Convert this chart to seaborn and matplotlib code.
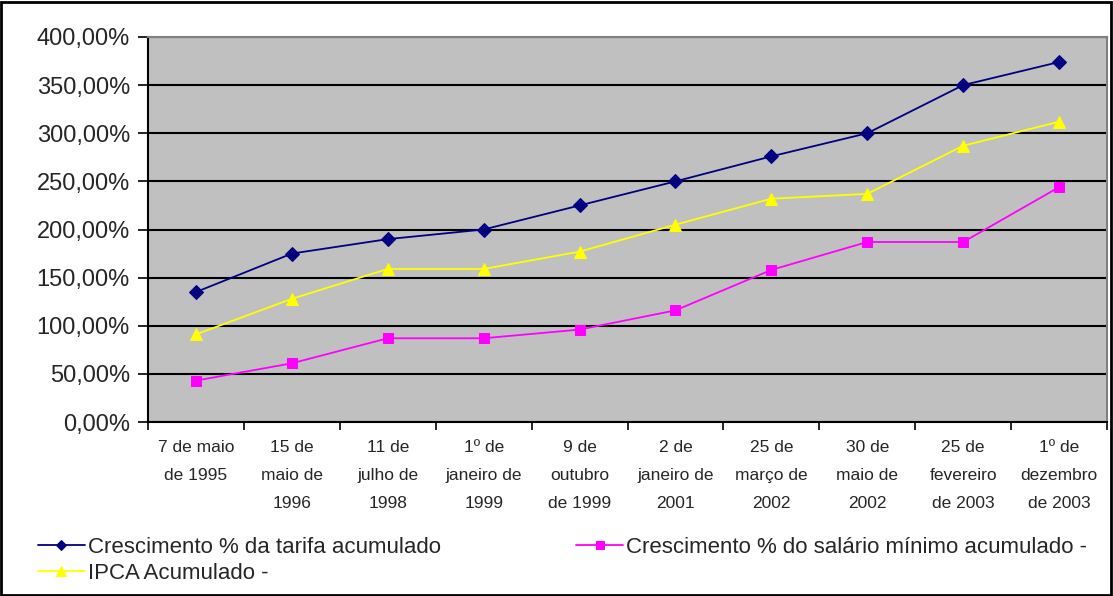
import numpy as np
import pandas as pd
import matplotlib
matplotlib.use("Agg")
import matplotlib.pyplot as plt
import seaborn as sns
from matplotlib.ticker import FuncFormatter

categories = ["7 de maio\nde 1995", "15 de\nmaio de\n1996", "11 de\njulho de\n1998",
              "1º de\njaneiro de\n1999", "9 de\noutubro\nde 1999", "2 de\njaneiro de\n2001",
              "25 de\nmarço de\n2002", "30 de\nmaio de\n2002", "25 de\nfevereiro\nde 2003",
              "1º de\ndezembro\nde 2003"]
tarifa = [135, 175, 190, 200, 225, 250, 276, 300, 350, 374]
salario = [43, 61, 87, 87, 96, 116, 158, 187, 187, 244]
ipca = [91, 128, 159, 159, 177, 205, 232, 237, 287, 312]
series_names = ["Crescimento % da tarifa acumulado",
                "Crescimento % do salário mínimo acumulado -",
                "IPCA Acumulado -"]
yticks = [0, 50, 100, 150, 200, 250, 300, 350, 400]

sns.set_theme(style="white")
plt.rcParams['font.family'] = ['Liberation Sans', 'DejaVu Sans']

fig = plt.figure(figsize=(11.13, 5.96), dpi=100)
ax = fig.add_axes([148/1113, 1 - 422/596, (1107-148)/1113, (422-37)/596])
ax.set_facecolor("#C0C0C0")

x = np.arange(len(categories))
styles = [
    (tarifa, "#000080", "D", 7),
    (salario, "#FF00FF", "s", 7.5),
    (ipca, "#FFFF00", "^", 9),
]
handles = []
for (vals, color, marker, ms), name in zip(styles, series_names):
    df = pd.DataFrame({"x": x, "y": vals})
    sns.lineplot(data=df, x="x", y="y", ax=ax, color=color, marker=marker,
                 markersize=ms, markeredgecolor=color, linewidth=1.3, label=name,
                 legend=False, zorder=3)
    handles.append(ax.lines[-1])

ax.set_xlim(-0.5, len(categories) - 0.5)
ax.set_ylim(0, 400)
ax.set_yticks(yticks)
ax.yaxis.set_major_formatter(FuncFormatter(lambda v, p: f"{v:.2f}%".replace(".", ",")))
ax.grid(axis="y", color="black", linewidth=1.5, zorder=1)
ax.set_axisbelow(True)

ax.set_xticks(np.arange(-0.5, len(categories), 1))
ax.set_xticklabels([])
ax.set_xticks(x, minor=True)
ax.set_xticklabels(categories, minor=True, fontsize=12.5, linespacing=2.1, va="top")
ax.tick_params(axis="x", which="major", length=6, width=1.2, color="black", direction="out", bottom=True)
ax.tick_params(axis="x", which="minor", length=0, pad=13)
ax.tick_params(axis="y", length=7, width=1.2, color="black", direction="out", left=True, labelsize=17, pad=6)
ax.set_xlabel("")
ax.set_ylabel("")

for s in ["left", "bottom"]:
    ax.spines[s].set_color("black")
    ax.spines[s].set_linewidth(1.5)
for s in ["top", "right"]:
    ax.spines[s].set_color("#808080")
    ax.spines[s].set_linewidth(1.5)

leg = fig.legend([handles[0], handles[2], handles[1]],
                 [series_names[0], series_names[2], series_names[1]],
                 ncol=2, loc="lower left", bbox_to_anchor=(29/1113, 3/596),
                 frameon=False, fontsize=16, handlelength=2.1, handletextpad=0.15,
                 columnspacing=6.1, labelspacing=0.25, borderaxespad=0, markerscale=0.8)

border = plt.Rectangle((0.001, 0.002), 0.997, 0.995, transform=fig.transFigure,
                       fill=False, edgecolor="black", linewidth=2)
fig.patches.append(border)

fig.savefig("out.png", dpi=100)
